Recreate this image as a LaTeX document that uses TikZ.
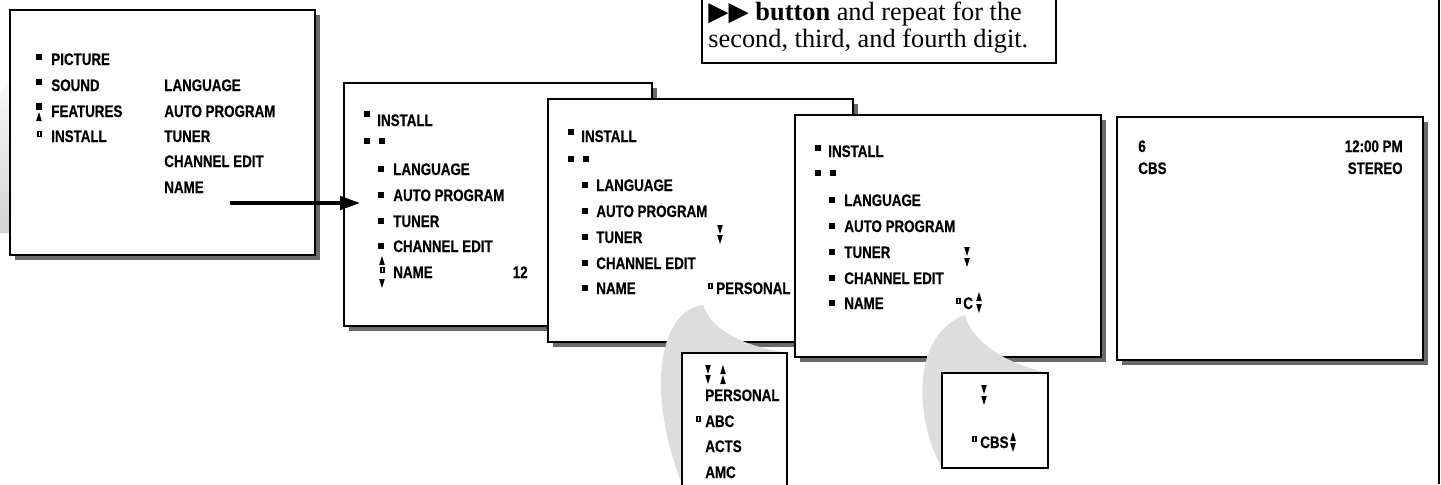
\documentclass[tikz,border=0pt]{standalone}
\usepackage{fontspec}
\setmainfont{Liberation Serif}
\newfontfamily\symfont{DejaVu Sans}
\newfontfamily\osdfamily[FakeStretch=0.8,FakeBold=0.4]{Liberation Sans Bold}
\newcommand{\osdfont}{\osdfamily\fontsize{9.5}{11}\selectfont}
\usetikzlibrary{arrows.meta}

\definecolor{shadowgrey}{RGB}{105,105,105}
\definecolor{calloutgrey}{RGB}{221,221,221}

\tikzset{
    osdtext/.style={font=\osdfont, anchor=base west, inner sep=0pt},
    osdtextr/.style={osdtext, anchor=base east},
    screenbox/.style={draw=black, fill=white, line width=1.2pt},
    screenshadow/.style={fill=shadowgrey},
    popbox/.style={draw=black, fill=white, line width=0.85pt},
    calloutfill/.style={fill=calloutgrey}
}

% Little on-screen symbols
\newcommand{\osdsq}[2]{\fill (#1,#2) rectangle ++(6,6);}
\newcommand{\osdup}[2]{\fill (#1,#2) -- ++(2.8,9) -- ++(-5.6,0) -- cycle;}
\newcommand{\osddown}[2]{\fill (#1,#2) ++(-2.8,0) -- ++(5.6,0) -- ++(-2.8,9) -- cycle;}
\newcommand{\osdmark}[2]{\fill (#1,#2) rectangle ++(5,6);
    \draw [white,line width=0.5pt] (#1+2.5,#2+1) -- (#1+2.5,#2+5);}

\begin{document}
\begin{tikzpicture}[x=0.02cm,y=-0.02cm]
    \useasboundingbox (0,0) rectangle (1441,484);
    \clip (0,0) rectangle (1441,484);

    % Grey callout left of the main menu
    \shade [top color=gray!6,bottom color=gray!35]
        (0,95) .. controls (3,87) and (7,84) .. (10,82) -- (10,233) -- (0,233) -- cycle;

    % Screen 1: main menu
    \fill [screenshadow] (15,15) rectangle (320,260);
    \draw [screenbox] (10,10) rectangle (315,255);
    \osdsq{36}{54}
    \osdsq{36}{79}
    \fill (36,103) rectangle ++(6,7);
    \osdup{39}{112}
    \osdmark{37}{131}
    \node [osdtext] (menupicture) at (51,65) {PICTURE};
    \node [osdtext] (menusound) at (51,91) {SOUND};
    \node [osdtext] (menufeatures) at (51,117) {FEATURES};
    \node [osdtext] (menuinstall) at (51,142) {INSTALL};
    \node [osdtext] (sublanguage) at (164,91) {LANGUAGE};
    \node [osdtext] (subauto) at (164,117) {AUTO PROGRAM};
    \node [osdtext] (subtuner) at (164,142) {TUNER};
    \node [osdtext] (subchannel) at (164,167) {CHANNEL EDIT};
    \node [osdtext] (subname) at (164,193) {NAME};

    % Screen 2: install menu, NAME selected
    \fill [screenshadow] (349,88) rectangle (657,331);
    \draw [screenbox] (344,83) rectangle (652,326);
    \osdsq{364}{111}
    \osdsq{364}{138}
    \osdsq{379}{138}
    \osdsq{378}{166}
    \osdsq{378}{192}
    \osdsq{378}{218}
    \osdsq{378}{243}
    \osdup{382}{256}
    \osdmark{380}{267}
    \osddown{382}{279}
    \node [osdtext] (twoinstall) at (377,126) {INSTALL};
    \node [osdtext] (twolanguage) at (393,175) {LANGUAGE};
    \node [osdtext] (twoauto) at (393,201) {AUTO PROGRAM};
    \node [osdtext] (twotuner) at (393,227) {TUNER};
    \node [osdtext] (twochannel) at (393,252) {CHANNEL EDIT};
    \node [osdtext] (twoname) at (393,278) {NAME};
    \node [osdtextr] (twonumber) at (528,278) {12};

    % Screen 3: name list
    \fill [screenshadow] (553,104) rectangle (858,347);
    \draw [screenbox] (548,99) rectangle (853,342);
    \osdsq{568}{129}
    \osdsq{568}{156}
    \osdsq{583}{156}
    \osdsq{582}{182}
    \osdsq{582}{208}
    \osdsq{582}{234}
    \osdsq{582}{260}
    \osdsq{582}{285}
    \osddown{720}{225}
    \osddown{720}{235}
    \osdmark{708}{283}
    \node [osdtext] (threeinstall) at (581,142) {INSTALL};
    \node [osdtext] (threelanguage) at (596,191) {LANGUAGE};
    \node [osdtext] (threeauto) at (596,217) {AUTO PROGRAM};
    \node [osdtext] (threetuner) at (596,243) {TUNER};
    \node [osdtext] (threechannel) at (596,269) {CHANNEL EDIT};
    \node [osdtext] (threename) at (596,294) {NAME};
    \node [osdtext] (threepersonal) at (716,294) {PERSONAL};

    % Callout to the list of names
    \fill [calloutfill] (703,305) .. controls (712,330) and (740,345) .. (787,353)
        -- (787,484) -- (682,484) .. controls (645,390) and (660,310) .. (703,305) -- cycle;
    \draw [popbox] (682,353) rectangle (787,500);
    \osddown{708}{365}
    \osddown{708}{375}
    \osdup{723}{365}
    \osdup{723}{375}
    \osdmark{696}{416}
    \node [osdtext] (listpersonal) at (705,401) {PERSONAL};
    \node [osdtext] (listabc) at (705,427) {ABC};
    \node [osdtext] (listacts) at (705,452) {ACTS};
    \node [osdtext] (listamc) at (705,478) {AMC};

    % Screen 4: first letter
    \fill [screenshadow] (800,120) rectangle (1106,362);
    \draw [screenbox] (795,115) rectangle (1101,357);
    \osdsq{815}{145}
    \osdsq{815}{170}
    \osdsq{830}{170}
    \osdsq{829}{197}
    \osdsq{829}{223}
    \osdsq{829}{249}
    \osdsq{829}{275}
    \osdsq{829}{300}
    \osddown{967}{247}
    \osddown{967}{258}
    \osdmark{956}{298}
    \osdup{979}{292}
    \osddown{979}{304}
    \node [osdtext] (fourinstall) at (828,157) {INSTALL};
    \node [osdtext] (fourlanguage) at (844,206) {LANGUAGE};
    \node [osdtext] (fourauto) at (844,232) {AUTO PROGRAM};
    \node [osdtext] (fourtuner) at (844,258) {TUNER};
    \node [osdtext] (fourchannel) at (844,284) {CHANNEL EDIT};
    \node [osdtext] (fourname) at (844,309) {NAME};
    \node [osdtext] (fourletter) at (963,309) {C};

    % Callout to the spelled name
    \fill [calloutfill] (965,315) .. controls (972,340) and (1000,362) .. (1048,373)
        -- (1048,468) -- (942,468) .. controls (915,420) and (910,335) .. (965,315) -- cycle;
    \draw [popbox] (942,373) rectangle (1048,468);
    \osddown{984}{385}
    \osddown{984}{396}
    \osdmark{972}{436}
    \osdup{1013}{432}
    \osddown{1013}{443}
    \node [osdtext] (spellcbs) at (980,448) {CBS};

    % Screen 5: channel banner
    \fill [screenshadow] (1122,122) rectangle (1428,365);
    \draw [screenbox] (1117,117) rectangle (1423,360);
    \node [osdtext] (bannerchannel) at (1138,152) {6};
    \node [osdtext] (bannername) at (1138,174) {CBS};
    \node [osdtextr] (bannertime) at (1403,152) {12:00 PM};
    \node [osdtextr] (bannersound) at (1403,174) {STEREO};

    % Instruction text
    \draw [line width=0.8pt] (702,-20) rectangle (1056,63);
    \node [anchor=base west,inner sep=0pt,font=\fontsize{15}{17}\selectfont] (tipone) at (708,20)
        {{\symfont\fontsize{15}{15}\selectfont ▶▶} \textbf{button} and repeat for the};
    \node [anchor=base west,inner sep=0pt,font=\fontsize{15}{17}\selectfont] (tiptwo) at (708,47)
        {second, third, and fourth digit.};

    % Page edge
    \draw [line width=0.6pt] (1439,0) -- (1439,484);

    % Arrow into the install menu
    \coordinate (namearrow) at (230,203);
    \coordinate (installin) at (360,203);
    \draw [line width=2pt,-{Triangle[length=0.4cm,width=0.27cm]}] (namearrow) -- (installin);
\end{tikzpicture}
\end{document}
